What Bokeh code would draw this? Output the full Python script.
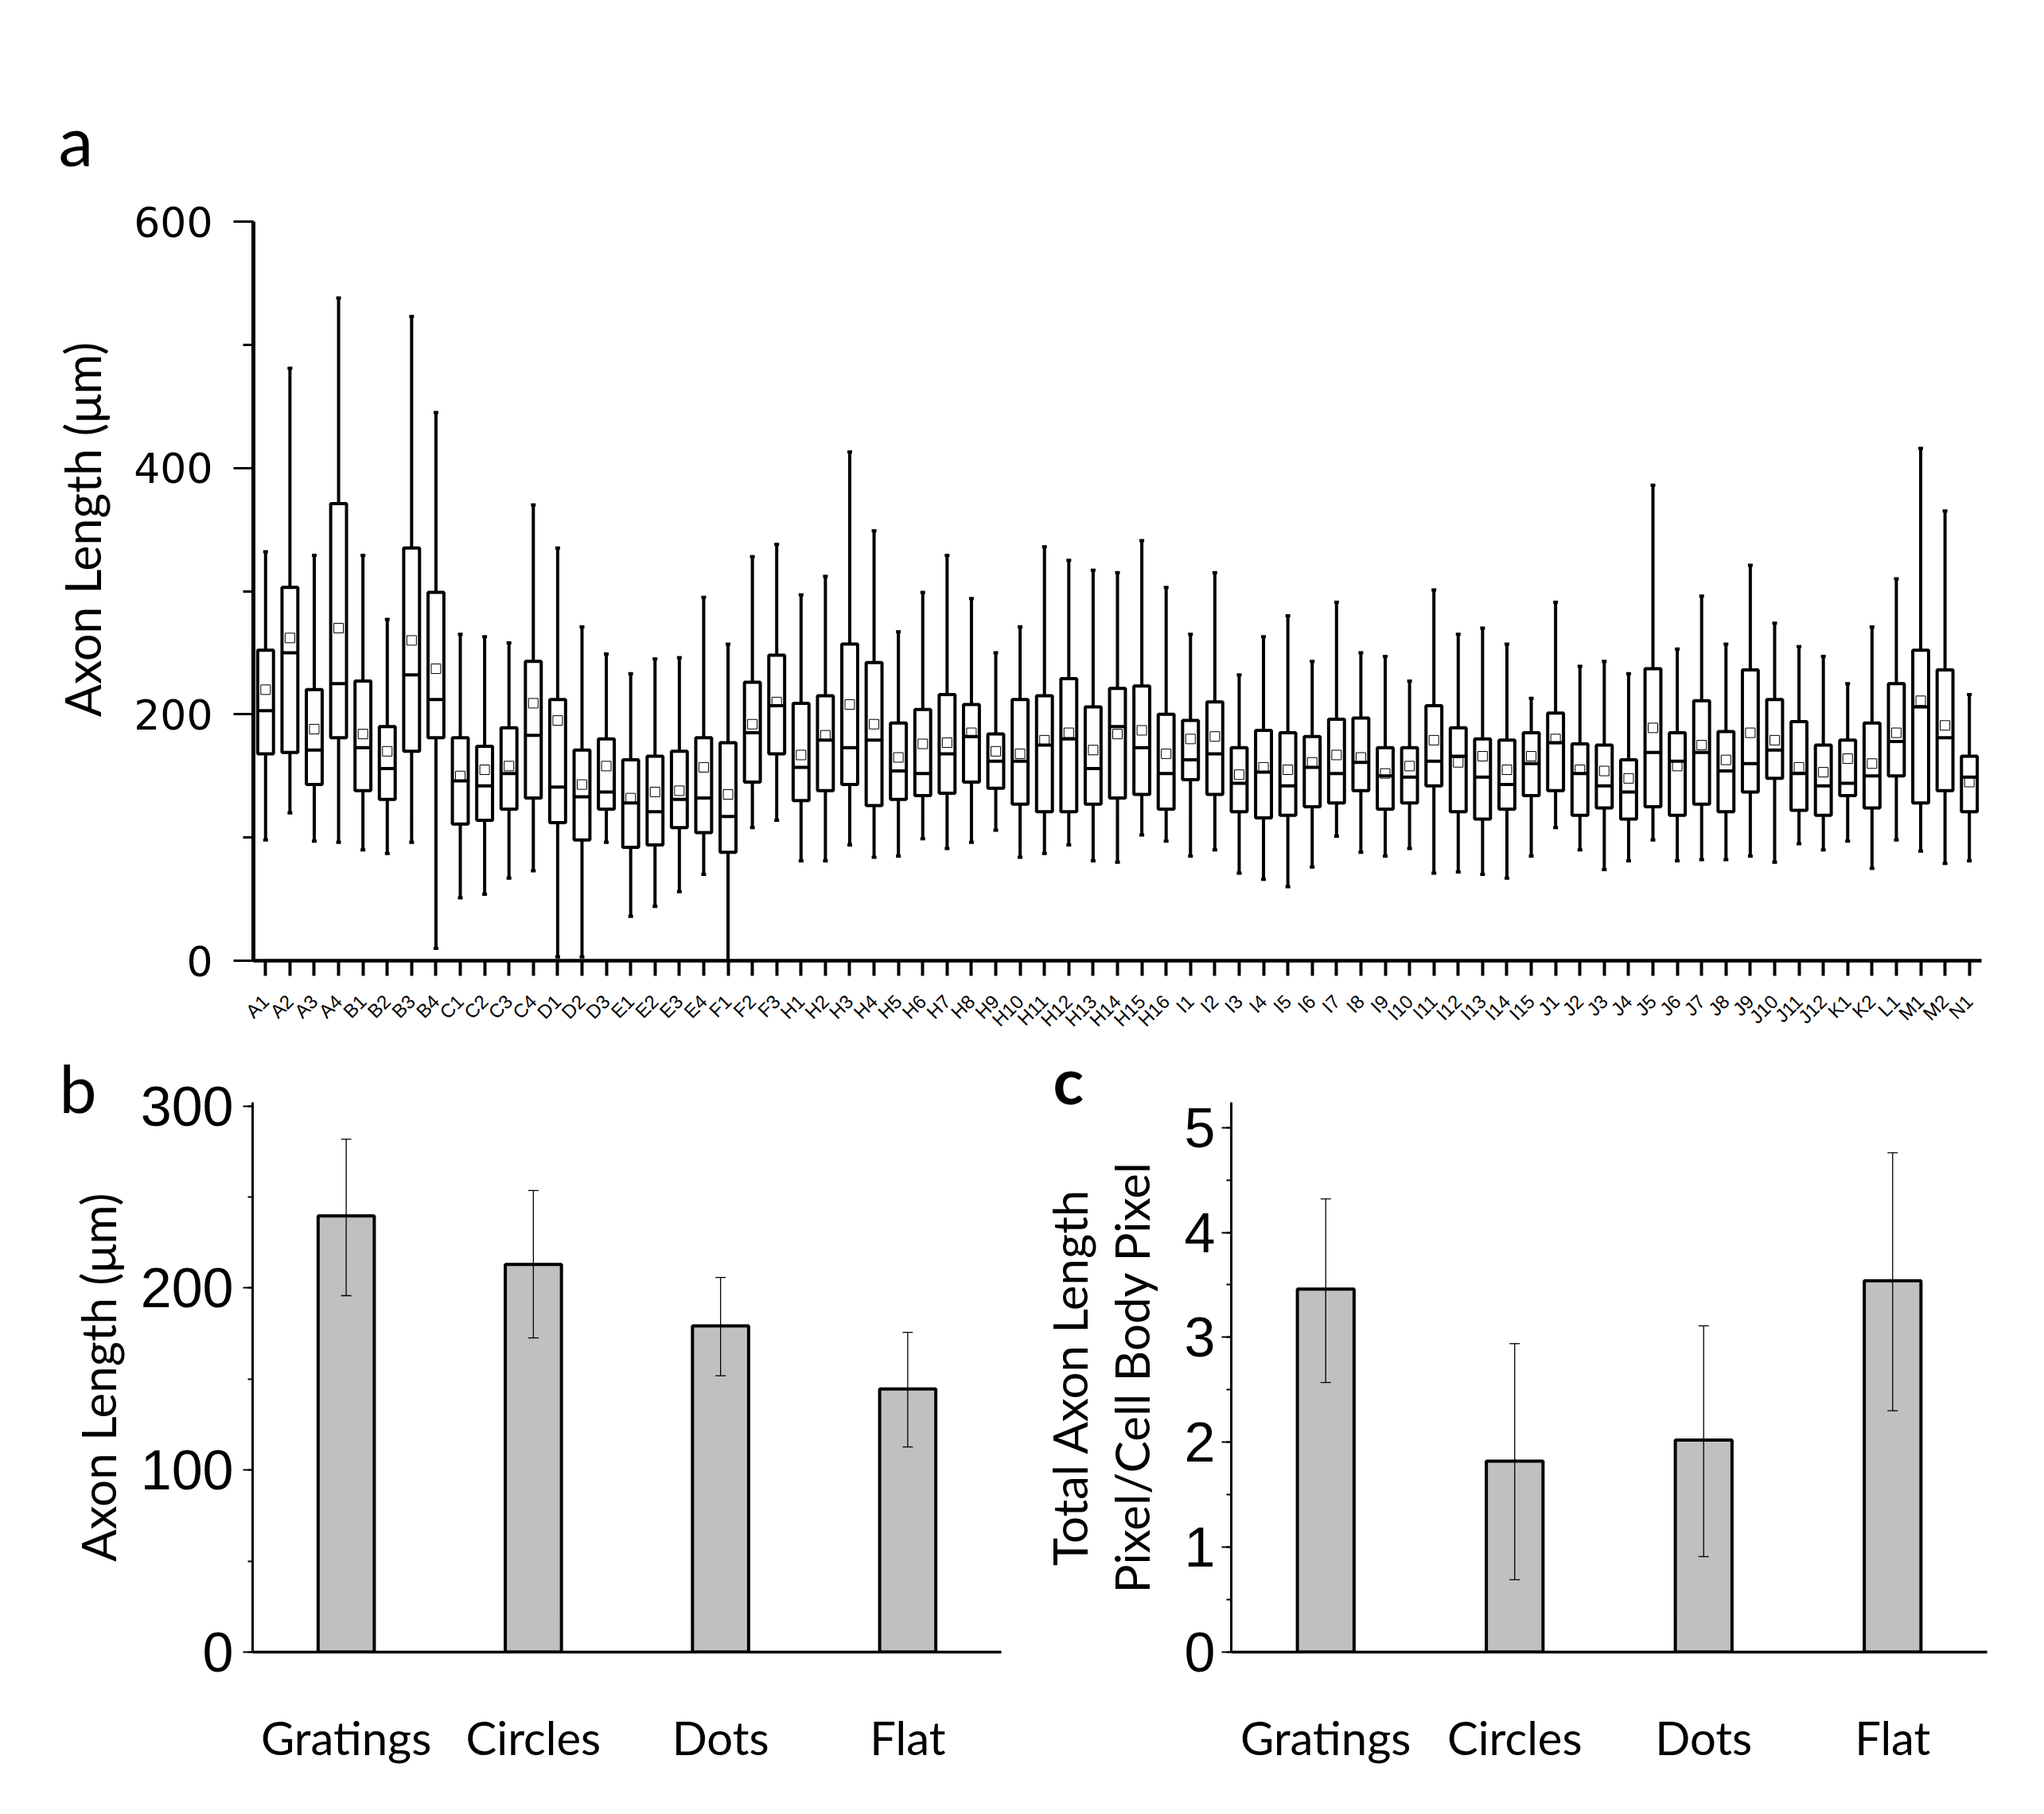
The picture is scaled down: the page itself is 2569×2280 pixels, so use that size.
from bokeh.plotting import figure
from bokeh.models import (FactorRange, Range1d, SingleIntervalTicker, Title,
                          Whisker, TeeHead, ColumnDataSource)
from bokeh.layouts import column, row
from bokeh.embed import file_html
from bokeh.resources import INLINE

# ---------------- panel a data (box plots) ----------------
samples = ["A1", "A2", "A3", "A4", "B1", "B2", "B3", "B4", "C1", "C2", "C3", "C4",
           "D1", "D2", "D3", "E1", "E2", "E3", "E4", "F1", "F2", "F3",
           "H1", "H2", "H3", "H4", "H5", "H6", "H7", "H8", "H9", "H10", "H11", "H12",
           "H13", "H14", "H15", "H16",
           "I1", "I2", "I3", "I4", "I5", "I6", "I7", "I8", "I9", "I10", "I11", "I12",
           "I13", "I14", "I15",
           "J1", "J2", "J3", "J4", "J5", "J6", "J7", "J8", "J9", "J10", "J11", "J12",
           "K1", "K2", "L1", "M1", "M2", "N1"]
whisker_low = [98, 120, 97, 96, 90, 87, 96, 10, 51, 54, 67, 73,
               3, 3, 96, 36, 44, 56, 70, 0, 108, 114,
               81, 81, 94, 84, 85, 99, 91, 96, 106, 84, 87, 94,
               81, 80, 102, 97,
               85, 90, 71, 66, 60, 76, 101, 88, 85, 91, 71, 72,
               70, 67, 85,
               108, 90, 74, 81, 98, 81, 82, 82, 85, 80, 95, 90,
               97, 75, 98, 89, 79, 81]
q1 = [168, 169, 143, 181, 138, 131, 170, 181, 111, 114, 123, 132,
      112, 98, 123, 92, 94, 108, 104, 88, 145, 168,
      130, 138, 143, 126, 131, 134, 136, 145, 140, 127, 121, 121,
      127, 132, 135, 123,
      147, 135, 121, 116, 118, 125, 128, 138, 123, 128, 142, 121,
      115, 123, 134,
      138, 118, 124, 115, 125, 118, 127, 121, 137, 148, 122, 118,
      134, 124, 150, 128, 138, 121]
median = [203, 250, 171, 225, 173, 156, 232, 212, 146, 142, 152, 183,
          141, 133, 137, 128, 121, 131, 132, 117, 185, 207,
          157, 179, 173, 179, 154, 152, 168, 182, 162, 162, 175, 180,
          156, 190, 173, 152,
          163, 168, 144, 153, 142, 157, 152, 161, 150, 149, 162, 166,
          149, 143, 160,
          177, 152, 142, 137, 169, 162, 169, 154, 160, 171, 152, 142,
          144, 150, 178, 206, 181, 149]
mean = [220, 262, 188, 270, 184, 170, 260, 237, 150, 155, 158, 209,
        195, 143, 158, 132, 137, 138, 157, 135, 192, 210,
        167, 183, 208, 192, 165, 176, 177, 185, 170, 168, 179, 185,
        171, 184, 187, 168,
        180, 182, 151, 157, 155, 161, 167, 165, 152, 158, 179, 161,
        166, 155, 166,
        180, 155, 154, 148, 189, 158, 175, 163, 185, 179, 157, 153,
        164, 160, 185, 211, 191, 145]
q3 = [252, 303, 220, 371, 227, 190, 335, 299, 181, 174, 189, 243,
      212, 171, 180, 163, 166, 170, 181, 177, 226, 248,
      209, 215, 257, 242, 193, 204, 216, 208, 184, 212, 215, 229,
      206, 221, 223, 200,
      195, 210, 173, 187, 185, 182, 196, 197, 173, 173, 207, 189,
      180, 179, 185,
      201, 176, 175, 163, 237, 185, 211, 186, 236, 212, 194, 175,
      179, 193, 225, 252, 236, 166]
whisker_high = [332, 481, 329, 538, 329, 277, 523, 445, 265, 263, 258, 370,
                335, 271, 249, 233, 245, 246, 295, 257, 328, 338,
                297, 312, 413, 349, 267, 299, 329, 294, 250, 271, 336, 325,
                317, 315, 341, 303,
                265, 315, 232, 263, 280, 243, 291, 250, 247, 227, 301, 265,
                270, 257, 213,
                291, 239, 243, 233, 386, 253, 296, 257, 321, 274, 255, 247,
                225, 271, 310, 416, 365, 216]

# ---------------- panels b and c data (bar charts) ----------------
groups = ["Gratings", "Circles", "Dots", "Flat"]
axon_mean = [239.6, 213.0, 179.2, 144.6]
axon_err_high = [281.7, 253.5, 205.8, 175.6]
axon_err_low = [195.8, 172.6, 151.8, 112.7]
ratio_mean = [3.46, 1.82, 2.02, 3.54]
ratio_err_high = [4.32, 2.94, 3.11, 4.76]
ratio_err_low = [2.57, 0.69, 0.91, 2.30]

LABEL_FONT = "Lato"
TICK_FONT = "Liberation Sans"


def clean(p):
    p.xgrid.visible = False
    p.ygrid.visible = False
    p.outline_line_color = None
    p.background_fill_color = "white"
    p.border_fill_color = "white"


def panel_letter(p, letter, offset, standoff, size="88px", style="normal"):
    p.title.text = letter
    p.title.align = "left"
    p.title.offset = offset
    p.title.standoff = standoff
    p.title.text_font = LABEL_FONT
    p.title.text_font_size = size
    p.title.text_font_style = style
    p.title.text_color = "black"


# ================= panel a =================
pa = figure(width=2550, height=1309, x_range=FactorRange(*samples), y_range=Range1d(0, 600),
            output_backend="svg", toolbar_location=None,
            min_border_left=318, min_border_right=60, min_border_top=278, min_border_bottom=102)
clean(pa)
src = ColumnDataSource(dict(x=samples, wl=whisker_low, q1=q1, med=median, mean=mean,
                            q3=q3, wh=whisker_high))
pa.segment(x0="x", y0="q3", x1="x", y1="wh", source=src, line_width=4, line_color="black")
pa.segment(x0="x", y0="wl", x1="x", y1="q1", source=src, line_width=4, line_color="black")
pa.scatter(x="x", y="wh", marker="dash", size=6, line_width=4, line_color="black", source=src)
pa.scatter(x="x", y="wl", marker="dash", size=6, line_width=4, line_color="black", source=src)
pa.vbar(x="x", top="q3", bottom="q1", width=0.65, fill_color="white", line_color="black",
        line_width=4, source=src)
pa.vbar(x="x", top="med", bottom="med", width=0.65, fill_color=None, line_color="black",
        line_width=4, source=src)
pa.scatter(x="x", y="mean", marker="square", size=12, fill_color=None, line_color="black",
           line_width=1, source=src)

pa.xaxis.axis_line_width = 4.5
pa.xaxis.major_tick_line_width = 4
pa.xaxis.major_tick_out = 19
pa.xaxis.major_tick_in = 0
pa.xaxis.major_label_orientation = 0.7854
pa.xaxis.major_label_text_font = TICK_FONT
pa.xaxis.major_label_text_font_size = "24px"
pa.xaxis.major_label_standoff = 28
pa.xaxis.major_label_text_color = "black"

pa.yaxis.ticker = SingleIntervalTicker(interval=200, num_minor_ticks=2)
pa.yaxis.axis_line_width = 5
pa.yaxis.major_tick_out = 25
pa.yaxis.major_tick_in = 0
pa.yaxis.minor_tick_out = 13
pa.yaxis.minor_tick_in = 0
pa.yaxis.major_tick_line_width = 3
pa.yaxis.minor_tick_line_width = 3
pa.yaxis.major_label_text_font = "DejaVu Sans"
pa.yaxis.major_label_text_font_size = "52px"
pa.yaxis.major_label_standoff = 26
pa.yaxis.major_label_text_color = "black"

pa.add_layout(Title(text="Axon Length (μm)", align="right", offset=151,
                    vertical_align="bottom", standoff=52, text_font=LABEL_FONT,
                    text_font_size="61px", text_font_style="normal", text_color="black"),
              "left")
panel_letter(pa, "a", -245, 102)


def bar_panel(width, height, ymax, interval, means, hi, lo, ylabel, mleft, mright, mtop, mbottom,
              tick_standoff, label_standoff):
    p = figure(width=width, height=height, x_range=FactorRange(*groups), y_range=Range1d(0, ymax),
               output_backend="svg", toolbar_location=None,
               min_border_left=mleft, min_border_right=mright, min_border_top=mtop,
               min_border_bottom=mbottom)
    clean(p)
    p.vbar(x=groups, top=means, width=0.30, fill_color="#c0c0c0", line_color="black",
           line_width=4)
    esrc = ColumnDataSource(dict(x=groups, upper=hi, lower=lo))
    p.add_layout(Whisker(source=esrc, base="x", upper="upper", lower="lower",
                         level="annotation", line_width=1.3, line_color="black",
                         upper_head=TeeHead(size=13, line_width=1.3, line_color="black"),
                         lower_head=TeeHead(size=13, line_width=1.3, line_color="black")))
    p.xaxis.axis_line_width = 3.5
    p.xaxis.major_tick_out = 0
    p.xaxis.major_tick_in = 0
    p.xaxis.major_label_text_font = LABEL_FONT
    p.xaxis.major_label_text_font_size = "58px"
    p.xaxis.major_label_standoff = 72
    p.xaxis.major_label_text_color = "black"

    p.yaxis.ticker = SingleIntervalTicker(interval=interval, num_minor_ticks=2)
    p.yaxis.axis_line_width = 3
    p.yaxis.major_tick_out = 12
    p.yaxis.major_tick_in = 0
    p.yaxis.minor_tick_out = 6
    p.yaxis.minor_tick_in = 0
    p.yaxis.major_tick_line_width = 2
    p.yaxis.minor_tick_line_width = 2
    p.yaxis.major_label_text_font = TICK_FONT
    p.yaxis.major_label_text_font_size = "70px"
    p.yaxis.major_label_standoff = tick_standoff
    p.yaxis.major_label_text_color = "black"
    p.yaxis.axis_label = ylabel
    p.yaxis.axis_label_text_font = LABEL_FONT
    p.yaxis.axis_label_text_font_style = "normal"
    p.yaxis.axis_label_text_font_size = "60px"
    p.yaxis.axis_label_text_line_height = 1.08
    p.yaxis.axis_label_standoff = label_standoff
    p.yaxis.axis_label_text_color = "black"
    return p


pb = bar_panel(1290, 921, 302, 100, axon_mean, axon_err_high, axon_err_low,
               "Axon Length (μm)", 317, 32, 76, 150, 12, 15)
panel_letter(pb, "b", -243, -62, size="84px")
pc = bar_panel(1257, 921, 5.24, 1, ratio_mean, ratio_err_high, ratio_err_low,
               "Total Axon Length\nPixel/Cell Body Pixel", 257, 50, 66, 154, 8, 28)
panel_letter(pc, "c", -224, -38, size="80px", style="bold")

layout = column(pa, row(pb, pc, spacing=0), spacing=0)
open("out.html", "w").write(file_html(layout, INLINE))
